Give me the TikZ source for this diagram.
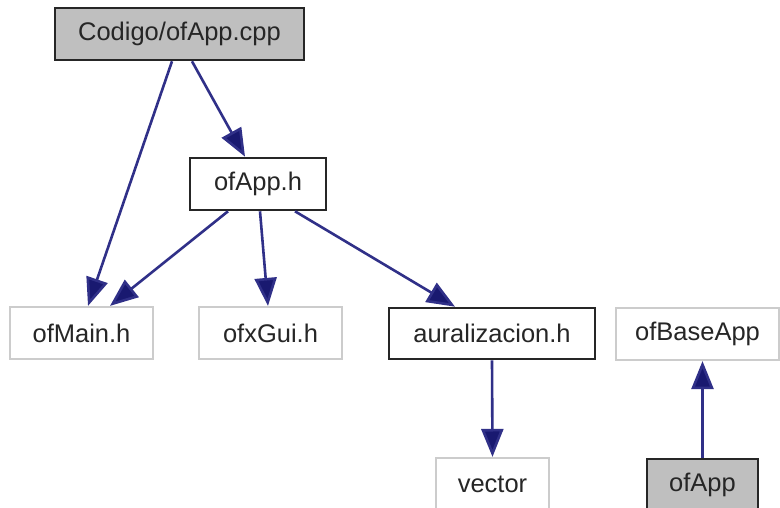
\documentclass[tikz,border=0pt]{standalone}
\usepackage{fontspec}
\setmainfont{Liberation Sans}
\usetikzlibrary{arrows.meta}
\definecolor{edgeblue}{RGB}{48,48,136}
\definecolor{headblue}{RGB}{25,25,112}
\definecolor{nodegray}{RGB}{191,191,191}
\definecolor{faintline}{RGB}{204,204,204}
\tikzset{
  file/.style={rectangle, inner sep=0pt, font=\fontsize{25.5}{30}\selectfont, text=black!85},
  mainfile/.style={file, draw=black!85, line width=2.6pt},
  extfile/.style={file, draw=faintline, line width=2.2pt, fill=white},
  dep/.style={draw=edgeblue, line width=2.6pt,
    -{Triangle[length=28pt,width=22pt,fill=headblue]}},
}
\begin{document}
\begin{tikzpicture}[x=1pt,y=-1pt]
  \useasboundingbox (0,0) rectangle (780,508);
  \clip (0,0) rectangle (780,508);
  \node[mainfile, fill=nodegray, minimum width=249pt, minimum height=52pt] (cpp) at (179.5,34) {Codigo/ofApp.cpp};
  \node[mainfile, fill=white, minimum width=136pt, minimum height=52pt] (apph) at (258,184) {ofApp.h};
  \node[extfile, minimum width=143pt, minimum height=52pt] (main) at (81.5,333) {ofMain.h};
  \node[extfile, minimum width=143pt, minimum height=52pt] (gui) at (270.5,333) {ofxGui.h};
  \node[mainfile, fill=white, minimum width=206pt, minimum height=51pt] (aur) at (492,333.5) {auralizacion.h};
  \node[extfile, minimum width=163pt, minimum height=52pt] (base) at (697.5,334) {ofBaseApp};
  \node[extfile, minimum width=113pt, minimum height=52pt] (vec) at (492.5,484) {vector};
  \node[mainfile, fill=nodegray, minimum width=111pt, minimum height=52pt] (app) at (702.5,485) {ofApp};
  \draw[dep] ([xshift=-7.5pt]cpp.south) -- ([xshift=6.5pt]main.north);
  \draw[dep] ([xshift=12.5pt]cpp.south) -- ([xshift=-13pt]apph.north);
  \draw[dep] ([xshift=-30pt]apph.south) -- ([xshift=28.5pt]main.north);
  \draw[dep] ([xshift=2pt]apph.south) -- ([xshift=-2.5pt]gui.north);
  \draw[dep] ([xshift=37pt]apph.south) -- ([xshift=-37pt]aur.north);
  \draw[dep] (aur.south) -- (vec.north);
  \draw[dep] (app.north) -- (app.north |- base.south);
\end{tikzpicture}
\end{document}
